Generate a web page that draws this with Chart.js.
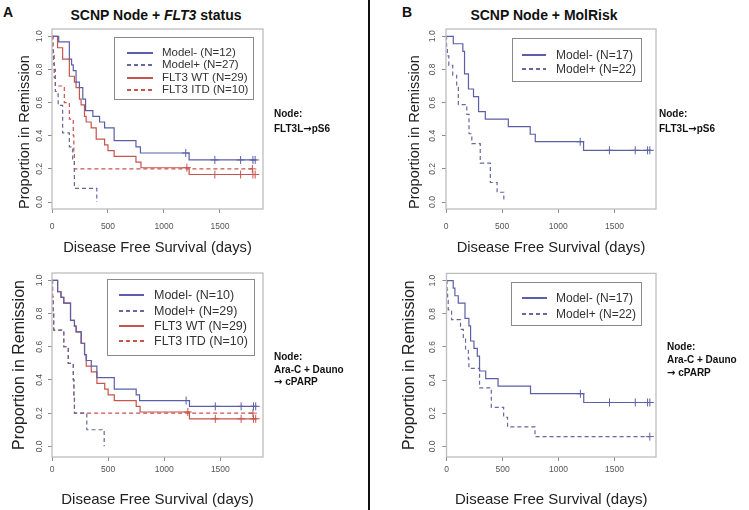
<!DOCTYPE html>
<html lang="en">
<head>
<meta charset="UTF-8">
<title>SCNP Node survival curves</title>
<script src="https://cdn.jsdelivr.net/npm/chart.js"></script>
<style>
  body { margin: 0; background: #fff; font-family: "Liberation Sans", Arial, sans-serif; }
  #page { position: relative; width: 749px; height: 510px; overflow: hidden; background: #fff; }
  #page canvas, .abs { position: absolute; }
  .divider { left: 368px; top: 0; width: 2px; height: 510px; background: #111; }
  .letter { font-weight: bold; font-size: 14px; line-height: 16px; color: #111; transform: translateX(-50%); }
  .title { font-weight: bold; font-size: 14px; line-height: 16px; color: #111; white-space: nowrap; transform: translateX(-50%); }
  .legend { border: 1px solid #8a8a8a; background: #fff; color: #333; box-sizing: border-box; }
  .legend .row { position: absolute; white-space: nowrap; }
  .legend .swatch { position: absolute; height: 1.5px; }
  .node { font-weight: bold; font-size: 10px; line-height: 12px; color: #111; white-space: nowrap; }
  .arrow { font-family: "DejaVu Sans", sans-serif; font-size: 10px; }
</style>
</head>
<body>
<div id="page">
  <div class="abs divider"></div>
  <div class="abs letter" style="left:8px;top:4px">A</div>
  <div class="abs letter" style="left:407px;top:4px">B</div>
  <div class="abs title" style="left:156px;top:7px">SCNP Node + <i>FLT3</i> status</div>
  <div class="abs title" style="left:544px;top:7px">SCNP Node + MolRisk</div>
</div>

<script>
  // ---- axis ticks ----
  const xTicks = [0, 500, 1000, 1500];
  const yTicks = [0, 0.2, 0.4, 0.6, 0.8, 1.0];

  // ---- A, top: FLT3L -> pS6 ----
  const tlMinusDays = [0, 60, 155, 175, 190, 215, 245, 275, 300, 365, 425, 470, 555, 750, 790, 1225, 1820];
  const tlMinusSurv = [1, 0.966, 0.862, 0.828, 0.793, 0.724, 0.69, 0.621, 0.552, 0.517, 0.483, 0.448, 0.37, 0.333, 0.296, 0.254, 0.254];
  const tlMinusCens = [1195, 1455, 1685, 1795, 1815];
  const tlPlusDays = [0, 5, 12, 20, 30, 55, 95, 155, 185, 200, 400];
  const tlPlusSurv = [1, 0.917, 0.833, 0.75, 0.667, 0.583, 0.417, 0.333, 0.25, 0.083, 0];
  const tlWtDays = [0, 50, 95, 155, 200, 215, 245, 260, 290, 305, 350, 395, 470, 500, 555, 750, 795, 1225, 1820];
  const tlWtSurv = [1, 0.931, 0.862, 0.759, 0.724, 0.69, 0.621, 0.586, 0.517, 0.483, 0.448, 0.379, 0.345, 0.31, 0.276, 0.241, 0.207, 0.166, 0.166];
  const tlWtCens = [1205, 1455, 1685, 1795, 1815];
  const tlItdDays = [0, 10, 20, 30, 110, 155, 190, 195, 200, 1800];
  const tlItdSurv = [1, 0.9, 0.8, 0.7, 0.6, 0.5, 0.4, 0.3, 0.2, 0.2];
  const tlItdCens = [1790];
  const tlLabels = ['Model- (N=12)', 'Model+ (N=27)', 'FLT3 WT (N=29)', 'FLT3 ITD (N=10)'];

  // ---- A, bottom: Ara-C + Dauno -> cPARP ----
  const blMinusDays = [0, 50, 80, 105, 165, 200, 215, 260, 290, 305, 350, 400, 555, 750, 780, 1225, 1820];
  const blMinusSurv = [1, 0.931, 0.897, 0.862, 0.759, 0.724, 0.69, 0.621, 0.552, 0.517, 0.483, 0.414, 0.345, 0.31, 0.276, 0.241, 0.241];
  const blMinusCens = [1195, 1455, 1685, 1795, 1815];
  const blPlusDays = [0, 5, 10, 15, 105, 145, 190, 195, 200, 310, 465];
  const blPlusSurv = [1, 0.9, 0.8, 0.7, 0.6, 0.5, 0.4, 0.3, 0.2, 0.1, 0];
  const blWtDays = [0, 50, 80, 105, 165, 200, 215, 260, 290, 305, 350, 400, 470, 500, 555, 750, 785, 1225, 1820];
  const blWtSurv = [1, 0.931, 0.897, 0.862, 0.759, 0.724, 0.69, 0.621, 0.552, 0.483, 0.448, 0.379, 0.345, 0.31, 0.276, 0.241, 0.207, 0.166, 0.166];
  const blWtCens = [1210, 1455, 1685, 1795, 1815];
  const blItdDays = [0, 5, 10, 15, 105, 145, 190, 195, 200, 1800];
  const blItdSurv = [1, 0.9, 0.8, 0.7, 0.6, 0.5, 0.4, 0.3, 0.2, 0.2];
  const blItdCens = [1790];
  const blLabels = ['Model- (N=10)', 'Model+ (N=29)', 'FLT3 WT (N=29)', 'FLT3 ITD (N=10)'];

  // ---- B, top: FLT3L -> pS6 ----
  const trMinusDays = [0, 65, 150, 165, 200, 245, 290, 350, 555, 750, 795, 1225, 1820];
  const trMinusSurv = [1, 0.955, 0.909, 0.773, 0.682, 0.636, 0.545, 0.5, 0.455, 0.409, 0.364, 0.312, 0.312];
  const trMinusCens = [1195, 1455, 1685, 1795, 1815];
  const trPlusDays = [0, 5, 12, 25, 60, 95, 110, 185, 205, 230, 305, 395, 455, 515];
  const trPlusSurv = [1, 0.941, 0.882, 0.824, 0.765, 0.706, 0.588, 0.529, 0.412, 0.353, 0.235, 0.118, 0.059, 0];
  const trLabels = ['Model- (N=17)', 'Model+ (N=22)'];

  // ---- B, bottom: Ara-C + Dauno -> cPARP ----
  const brMinusDays = [0, 60, 75, 105, 165, 200, 215, 245, 275, 295, 350, 460, 750, 1225, 1820];
  const brMinusSurv = [1, 0.955, 0.909, 0.864, 0.773, 0.727, 0.636, 0.591, 0.545, 0.455, 0.409, 0.364, 0.318, 0.265, 0.265];
  const brMinusCens = [1195, 1455, 1685, 1795, 1815];
  const brPlusDays = [0, 5, 10, 15, 45, 125, 150, 170, 195, 200, 295, 400, 510, 545, 790, 1815];
  const brPlusSurv = [1, 0.941, 0.882, 0.824, 0.765, 0.706, 0.647, 0.588, 0.529, 0.471, 0.353, 0.235, 0.176, 0.118, 0.059, 0.059];
  const brPlusCens = [1815];
  const brLabels = ['Model- (N=17)', 'Model+ (N=22)'];

  const BLUE = '#5b5fa8';
  const BLUE_DASH = '#66689e';
  const RED = '#c9534d';

  var page = document.getElementById('page');

  function survAt(days, surv, t) {
    let v = surv[0];
    for (let i = 0; i < days.length; i++) if (days[i] <= t) v = surv[i];
    return v;
  }

  function textWidth(str, size) {
    const c = document.createElement('canvas').getContext('2d');
    c.font = size + 'px "Liberation Sans", Arial, sans-serif';
    return c.measureText(str).width;
  }

  // grey R-style frame round the plot region
  const plotBox = {
    id: 'plotBox',
    afterDraw(chart) {
      const { ctx, chartArea: a } = chart;
      ctx.save();
      ctx.strokeStyle = '#bdbdbd';
      ctx.lineWidth = 1.3;
      ctx.strokeRect(a.left, a.top, a.right - a.left, a.bottom - a.top);
      ctx.restore();
    }
  };

  function kmPanel(g, curves) {
    var canvas = document.createElement('canvas');
    canvas.width = g.w;
    canvas.height = g.h;
    canvas.style.left = g.x + 'px';
    canvas.style.top = g.y + 'px';
    page.appendChild(canvas);

    var datasets = [];
    curves.forEach(c => {
      datasets.push({
        data: c.days.map((d, i) => ({ x: d, y: c.surv[i] })),
        borderColor: c.color,
        borderWidth: 1.2,
        borderDash: c.dash ? [4, 3] : [],
        stepped: true,
        pointRadius: 0,
        fill: false
      });
    });
    curves.forEach(c => {
      if (!c.cens || !c.cens.length) return;
      datasets.push({
        data: c.cens.map(t => ({ x: t, y: survAt(c.days, c.surv, t) })),
        showLine: false,
        pointStyle: 'cross',
        pointRadius: 4,
        borderColor: c.color,
        borderWidth: 1
      });
    });

    const tickLh = g.tick * 1.2;
    const halfLabel = textWidth('0.0', g.tick) / 2;

    new Chart(canvas, {
      type: 'line',
      data: { datasets: datasets },
      plugins: [plotBox],
      options: {
        responsive: false,
        animation: false,
        events: [],
        layout: { padding: { left: 0, top: g.area.t - g.y, right: g.x + g.w - g.area.r, bottom: 0 } },
        plugins: { legend: { display: false }, tooltip: { enabled: false } },
        scales: {
          x: {
            type: 'linear',
            min: 0,
            max: g.xMax,
            afterBuildTicks: s => { s.ticks = xTicks.map(v => ({ value: v })); },
            afterFit: s => { s.height = g.y + g.h - g.area.b; },
            grid: { drawOnChartArea: false, tickLength: 4, color: '#8c8c8c' },
            border: { display: false },
            ticks: {
              color: '#555', font: { size: g.tick }, maxRotation: 0, autoSkip: false,
              padding: g.xTickY - g.area.b - 4 - tickLh / 2,
              callback: v => String(v)
            },
            title: {
              display: true, text: 'Disease Free Survival (days)', color: '#222',
              font: { size: g.xt },
              padding: { top: 0, bottom: Math.max(0, g.y + g.h - g.xTitleY - g.xt * 0.6) }
            }
          },
          y: {
            min: g.yMin,
            max: 1.044,
            afterBuildTicks: s => { s.ticks = yTicks.map(v => ({ value: v })); },
            afterFit: s => { s.width = g.area.l - g.x; },
            grid: { drawOnChartArea: false, tickLength: 4, color: '#8c8c8c' },
            border: { display: false },
            ticks: {
              color: '#555', font: { size: g.tick }, minRotation: 90, maxRotation: 90,
              crossAlign: 'center',
              padding: g.area.l - 4 - halfLabel - g.yTickX,
              callback: v => v.toFixed(1)
            },
            title: {
              display: true, text: 'Proportion in Remission', color: '#222',
              font: { size: g.yt },
              align: g.yAlign || 'center',
              padding: { top: g.yTitleX - g.x - g.yt * 0.6, bottom: 0 }
            }
          }
        }
      }
    });
  }

  function legendBox(b, labels, styles) {
    var box = document.createElement('div');
    box.className = 'abs legend';
    box.style.cssText = `left:${b.x}px;top:${b.y}px;width:${b.w}px;height:${b.h}px;font-size:${b.font}px;`;
    labels.forEach((lab, i) => {
      const cy = b.rows[i];
      const st = styles[i];
      var sw = document.createElement('div');
      sw.className = 'swatch';
      sw.style.left = b.sx + 'px';
      sw.style.width = b.sw + 'px';
      sw.style.top = Math.round(cy - 1) + 'px';
      sw.style.background = st.dash
        ? `repeating-linear-gradient(90deg, ${st.color} 0 4px, transparent 4px 7px)`
        : st.color;
      box.appendChild(sw);
      var row = document.createElement('div');
      row.className = 'row';
      row.style.left = b.tx + 'px';
      row.style.top = (cy - b.font * 0.6) + 'px';
      row.style.lineHeight = (b.font * 1.2) + 'px';
      row.textContent = lab;
      box.appendChild(row);
    });
    page.appendChild(box);
  }

  // lines may hold one "->" marker, which is set in a font that has a full-size arrow
  function nodeText(x, lines, centers) {
    lines.forEach((t, i) => {
      var d = document.createElement('div');
      d.className = 'abs node';
      d.style.left = x + 'px';
      d.style.top = (centers[i] - 6) + 'px';
      const parts = t.split('->');
      d.appendChild(document.createTextNode(parts[0]));
      if (parts.length > 1) {
        var a = document.createElement('span');
        a.className = 'arrow';
        a.textContent = '\u2192';
        d.appendChild(a);
        d.appendChild(document.createTextNode(parts[1]));
      }
      page.appendChild(d);
    });
  }

  const fourStyles = [
    { color: BLUE, dash: false }, { color: BLUE_DASH, dash: true },
    { color: RED, dash: false }, { color: RED, dash: true }
  ];
  const twoStyles = [{ color: BLUE, dash: false }, { color: BLUE_DASH, dash: true }];

  // A top
  kmPanel({ x: 0, y: 20, w: 268, h: 237, area: { l: 52, t: 29, r: 265, b: 209 }, xMax: 1885, yMin: -0.042,
            tick: 8.5, xt: 14.7, yt: 14.5, yAlign: 'start', xTitleY: 248, xTickY: 227, yTitleX: 25, yTickX: 39.5 }, [
    { days: tlMinusDays, surv: tlMinusSurv, cens: tlMinusCens, color: BLUE },
    { days: tlPlusDays, surv: tlPlusSurv, color: BLUE_DASH, dash: true },
    { days: tlWtDays, surv: tlWtSurv, cens: tlWtCens, color: RED },
    { days: tlItdDays, surv: tlItdSurv, cens: tlItdCens, color: RED, dash: true }
  ]);
  legendBox({ x: 114, y: 37, w: 140, h: 63, font: 11.5, sx: 12, sw: 26, tx: 47, rows: [15, 27.3, 39.6, 52] },
            tlLabels, fourStyles);
  nodeText(274, ['Node:', 'FLT3L->pS6'], [114, 129]);

  // A bottom
  kmPanel({ x: 0, y: 264, w: 268, h: 245, area: { l: 52, t: 273, r: 264, b: 457 }, xMax: 1880, yMin: -0.064,
            tick: 8.5, xt: 15, yt: 16, xTitleY: 500, xTickY: 470, yTitleX: 20, yTickX: 39.3 }, [
    { days: blMinusDays, surv: blMinusSurv, cens: blMinusCens, color: BLUE },
    { days: blPlusDays, surv: blPlusSurv, color: BLUE_DASH, dash: true },
    { days: blWtDays, surv: blWtSurv, cens: blWtCens, color: RED },
    { days: blItdDays, surv: blItdSurv, cens: blItdCens, color: RED, dash: true }
  ]);
  legendBox({ x: 107, y: 279, w: 148, h: 77, font: 12.5, sx: 11, sw: 25, tx: 46, rows: [15.3, 31, 46, 61] },
            blLabels, fourStyles);
  nodeText(274, ['Node:', 'Ara-C + Dauno', '-> cPARP'], [357, 369.5, 382]);

  // B top
  kmPanel({ x: 394, y: 20, w: 267, h: 237, area: { l: 446, t: 29, r: 658, b: 209 }, xMax: 1870, yMin: -0.042,
            tick: 8.5, xt: 14.7, yt: 14.5, yAlign: 'start', xTitleY: 248, xTickY: 227, yTitleX: 415, yTickX: 432.7 }, [
    { days: trMinusDays, surv: trMinusSurv, cens: trMinusCens, color: BLUE },
    { days: trPlusDays, surv: trPlusSurv, color: BLUE_DASH, dash: true }
  ]);
  legendBox({ x: 512, y: 38, w: 130, h: 44, font: 12, sx: 9, sw: 24, tx: 43, rows: [16, 30] },
            trLabels, twoStyles);
  nodeText(659, ['Node:', 'FLT3L->pS6'], [114, 129]);

  // B bottom
  kmPanel({ x: 394, y: 264, w: 267, h: 245, area: { l: 446.5, t: 273, r: 658, b: 457 }, xMax: 1870, yMin: -0.064,
            tick: 8.5, xt: 15, yt: 16, xTitleY: 500, xTickY: 470, yTitleX: 410, yTickX: 432.3 }, [
    { days: brMinusDays, surv: brMinusSurv, cens: brMinusCens, color: BLUE },
    { days: brPlusDays, surv: brPlusSurv, cens: brPlusCens, color: BLUE_DASH, dash: true }
  ]);
  legendBox({ x: 511, y: 282, w: 131, h: 44, font: 12, sx: 10, sw: 25, tx: 44, rows: [15.3, 30.7] },
            brLabels, twoStyles);
  nodeText(667, ['Node:', 'Ara-C + Dauno', '-> cPARP'], [347, 360, 373]);
</script>
</body>
</html>
